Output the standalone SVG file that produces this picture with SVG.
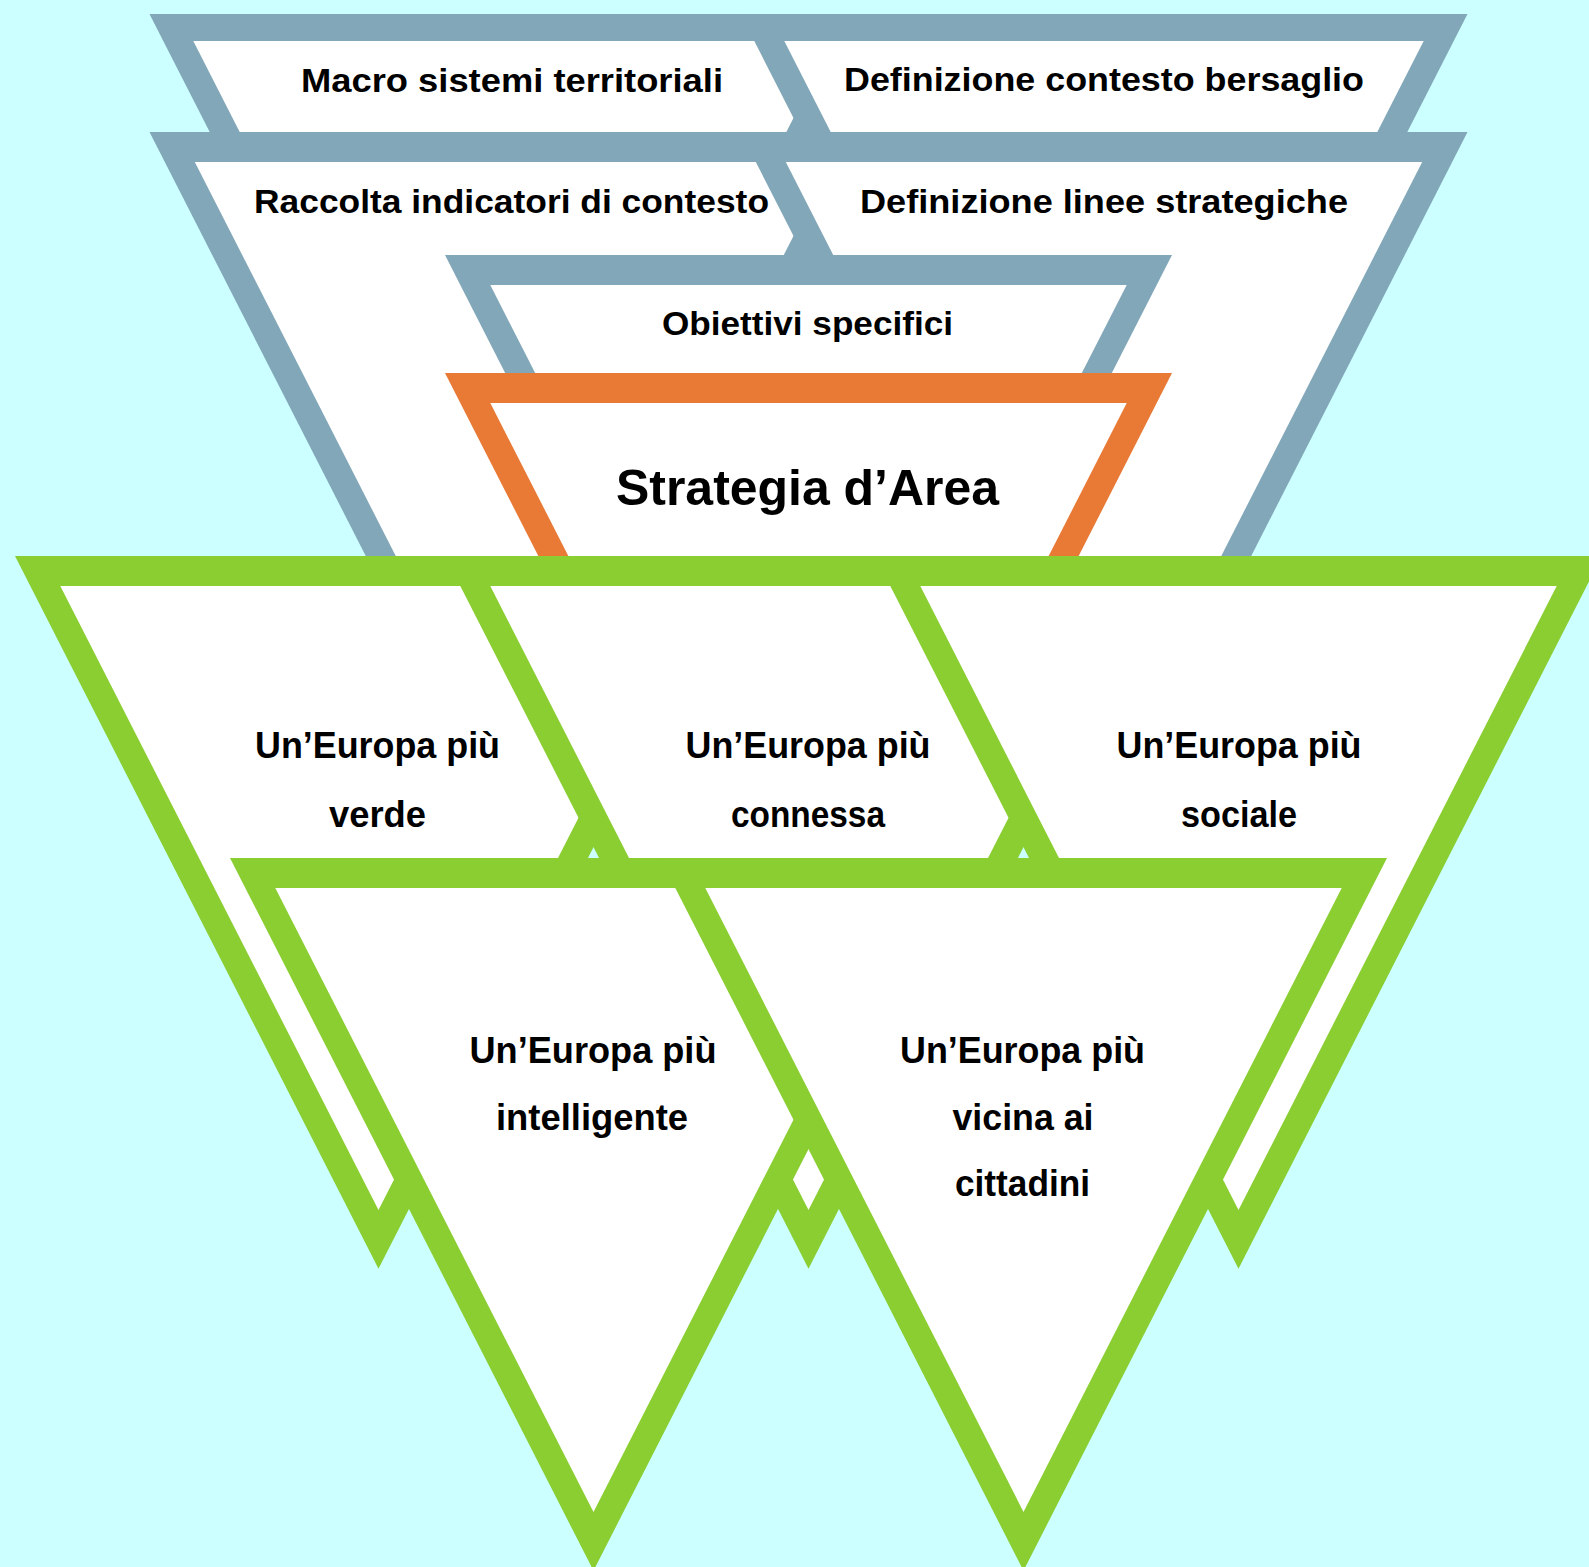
<svg xmlns="http://www.w3.org/2000/svg" width="1589" height="1567" viewBox="0 0 1589 1567">
<style>
.bg{fill:#CCFFFF}
.blue{fill:#82A7B8}
.orange{fill:#E97A35}
.green{fill:#8ACE32}
.in{fill:#FFFFFF}
text{font-family:"Liberation Sans",Arial,sans-serif;font-weight:bold;fill:#000;text-anchor:middle}
.t34{font-size:34px}
.t36{font-size:36px}
.t50{font-size:50px}
</style>
<rect class="bg" x="0" y="0" width="1589" height="1567"/>
<g id="node-macro">
<polygon class="blue" points="149.5,14 876.5,14 513,726.7"/>
<polygon class="in" points="193.3,41 832.7,41 513,667.9"/>
<text class="t34" x="512" y="92" textLength="422" lengthAdjust="spacingAndGlyphs">Macro sistemi territoriali</text>
</g>
<g id="node-contesto-bersaglio">
<polygon class="blue" points="740.5,14 1467.5,14 1104,726.7"/>
<polygon class="in" points="784.3,41 1423.7,41 1104,667.9"/>
<text class="t34" x="1104" y="91" textLength="520" lengthAdjust="spacingAndGlyphs">Definizione contesto bersaglio</text>
</g>
<g id="node-raccolta">
<polygon class="blue" points="149.5,132 876.5,132 513,844.7"/>
<polygon class="in" points="194.8,162 831.2,162 513,785.9"/>
<text class="t34" x="511.5" y="213" textLength="515" lengthAdjust="spacingAndGlyphs">Raccolta indicatori di contesto</text>
</g>
<g id="node-linee">
<polygon class="blue" points="740.5,132 1467.5,132 1104,844.7"/>
<polygon class="in" points="785.8,162 1422.2,162 1104,785.9"/>
<text class="t34" x="1104" y="213" textLength="488" lengthAdjust="spacingAndGlyphs">Definizione linee strategiche</text>
</g>
<g id="node-obiettivi">
<polygon class="blue" points="445,255 1172,255 808.5,967.7"/>
<polygon class="in" points="490.3,285 1126.7,285 808.5,908.9"/>
<text class="t34" x="807.5" y="335" textLength="291" lengthAdjust="spacingAndGlyphs">Obiettivi specifici</text>
</g>
<g id="node-strategia">
<polygon class="orange" points="445,373 1172,373 808.5,1085.7"/>
<polygon class="in" points="490.3,403 1126.7,403 808.5,1026.9"/>
<text class="t50" x="807.5" y="505" textLength="383" lengthAdjust="spacingAndGlyphs">Strategia d’Area</text>
</g>
<g id="node-verde">
<polygon class="green" points="15,556 742,556 378.5,1268.7"/>
<polygon class="in" points="60.3,586 696.7,586 378.5,1209.9"/>
<text class="t36" x="377.5" y="758" textLength="245" lengthAdjust="spacingAndGlyphs">Un’Europa più</text>
<text class="t36" x="377.5" y="827" textLength="97" lengthAdjust="spacingAndGlyphs">verde</text>
</g>
<g id="node-connessa">
<polygon class="green" points="445,556 1172,556 808.5,1268.7"/>
<polygon class="in" points="490.3,586 1126.7,586 808.5,1209.9"/>
<text class="t36" x="808" y="758" textLength="245" lengthAdjust="spacingAndGlyphs">Un’Europa più</text>
<text class="t36" x="808" y="827" textLength="154" lengthAdjust="spacingAndGlyphs">connessa</text>
</g>
<g id="node-sociale">
<polygon class="green" points="875,556 1602,556 1238.5,1268.7"/>
<polygon class="in" points="920.3,586 1556.7,586 1238.5,1209.9"/>
<text class="t36" x="1239" y="758" textLength="245" lengthAdjust="spacingAndGlyphs">Un’Europa più</text>
<text class="t36" x="1239" y="827" textLength="116" lengthAdjust="spacingAndGlyphs">sociale</text>
</g>
<g id="node-intelligente">
<polygon class="green" points="230,858 957,858 593.5,1570.7"/>
<polygon class="in" points="275.3,888 911.7,888 593.5,1511.9"/>
<text class="t36" x="593" y="1063" textLength="247" lengthAdjust="spacingAndGlyphs">Un’Europa più</text>
<text class="t36" x="592" y="1130" textLength="192" lengthAdjust="spacingAndGlyphs">intelligente</text>
</g>
<g id="node-vicina">
<polygon class="green" points="660,858 1387,858 1023.5,1570.7"/>
<polygon class="in" points="705.3,888 1341.7,888 1023.5,1511.9"/>
<text class="t36" x="1022.5" y="1063" textLength="245" lengthAdjust="spacingAndGlyphs">Un’Europa più</text>
<text class="t36" x="1023" y="1130" textLength="141" lengthAdjust="spacingAndGlyphs">vicina ai</text>
<text class="t36" x="1022.5" y="1196" textLength="135" lengthAdjust="spacingAndGlyphs">cittadini</text>
</g>
<g id="connectors"/>
</svg>
